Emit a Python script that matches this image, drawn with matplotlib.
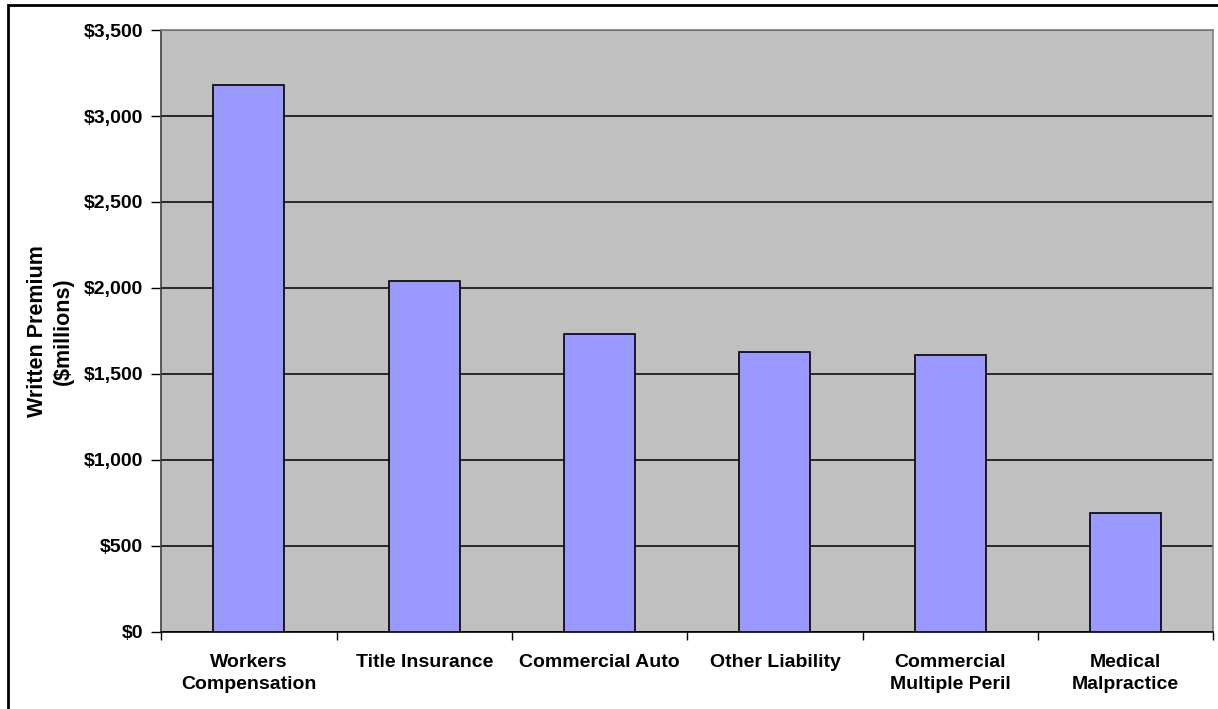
import matplotlib.pyplot as plt
from matplotlib.patches import Rectangle
from matplotlib.ticker import FuncFormatter, MultipleLocator

plt.rcParams['font.family'] = ['Liberation Sans', 'DejaVu Sans']

categories = ["Workers\nCompensation", "Title Insurance", "Commercial Auto",
              "Other Liability", "Commercial\nMultiple Peril", "Medical\nMalpractice"]
premium = [3180, 2040, 1730, 1630, 1610, 692]

W, H = 1218, 709
fig = plt.figure(figsize=(W / 100, H / 100), dpi=100)

# plot area in pixel coords (left, top, right, bottom)
L, T, R, B = 161.3, 30, 1213.3, 632
ax = fig.add_axes([L / W, 1 - B / H, (R - L) / W, (B - T) / H])

# outer chart border (right/bottom fall outside the picture)
fig.patches.append(Rectangle((8 / W, -0.01), 1.2, (H - 5) / H + 0.01,
                             transform=fig.transFigure, fill=False,
                             edgecolor="black", linewidth=2))

ax.set_facecolor("#C0C0C0")
x = range(len(categories))
ax.bar(x, premium, width=0.405, color="#9999FF", edgecolor="black",
       linewidth=1.2, zorder=3)

ax.set_xlim(-0.5, len(categories) - 0.5)
ax.set_ylim(0, 3500)
ax.yaxis.set_major_locator(MultipleLocator(500))
ax.yaxis.set_major_formatter(FuncFormatter(lambda v, p: f"${v:,.0f}"))
ax.grid(axis="y", color="black", linewidth=1.1, zorder=1)

ax.set_xticks(list(x))
ax.set_xticklabels(categories, fontsize=14, fontweight="bold", linespacing=1.4)
ax.set_xticks([i + 0.5 for i in range(-1, len(categories))], minor=True)
ax.tick_params(axis="x", which="major", length=0, pad=16)
ax.tick_params(axis="x", which="minor", length=6, width=1, color="black", direction="out")
ax.tick_params(axis="y", length=7, width=1, color="black", pad=6, labelsize=14)
for lab in ax.get_yticklabels():
    lab.set_fontweight("bold")

ax.set_ylabel("Written Premium\n($millions)", fontsize=15.5, fontweight="bold",
              labelpad=7, linespacing=1.3)

for side in ["top", "right"]:
    ax.spines[side].set_color("#808080")
    ax.spines[side].set_linewidth(1.2)
ax.spines["left"].set_color("#404040")
ax.spines["bottom"].set_color("black")
ax.spines["left"].set_linewidth(1.2)
ax.spines["bottom"].set_linewidth(1.2)

fig.savefig("out.png", dpi=100)
